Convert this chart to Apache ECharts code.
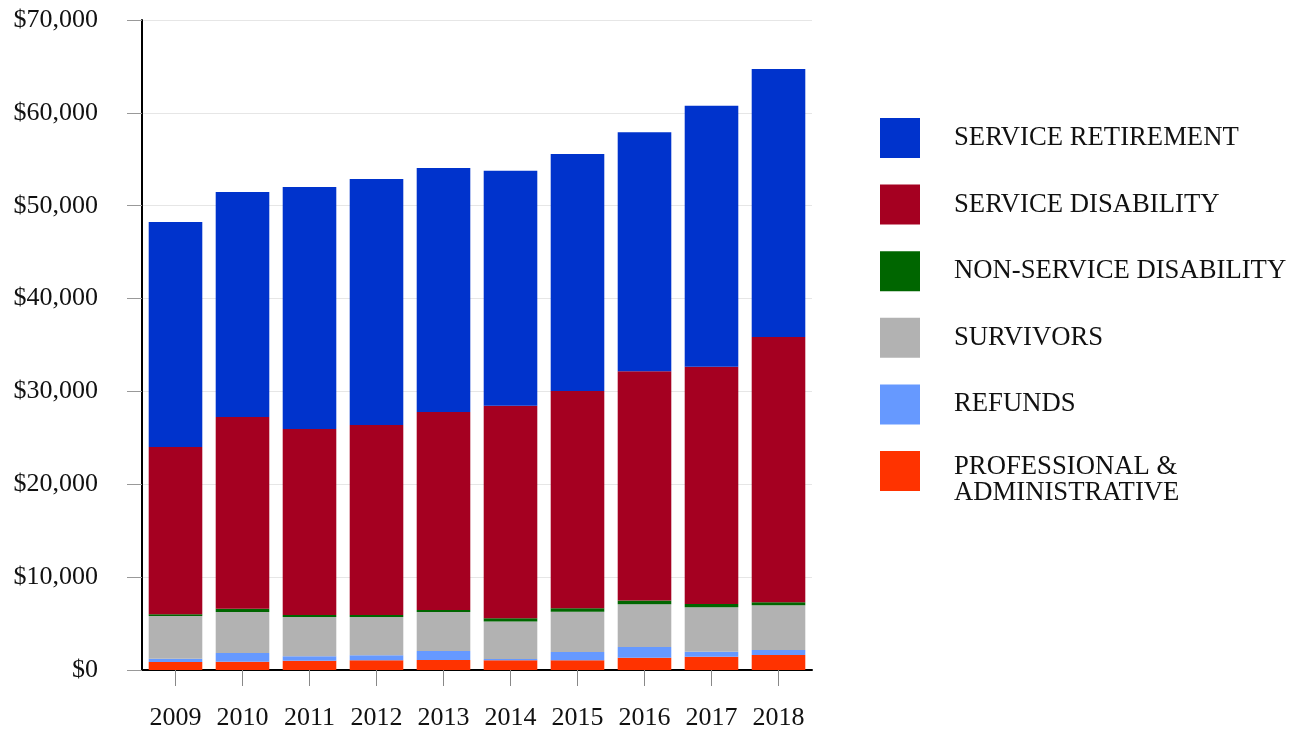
<!DOCTYPE html>
<html>
<head>
<meta charset="utf-8">
<script src="https://cdn.jsdelivr.net/npm/echarts@6/dist/echarts.min.js"></script>
<style>
html,body{margin:0;padding:0;background:#fff;}
#chart{width:1299px;height:732px;}
</style>
</head>
<body>
<div id="chart"></div>
<script>
const years = ['2009','2010','2011','2012','2013','2014','2015','2016','2017','2018'];
const profAdmin = [860, 895, 1000, 1045, 1075, 1045, 1045, 1325, 1430, 1615];
const refunds = [355, 935, 475, 540, 970, 140, 895, 1150, 540, 540];
const survivors = [4600, 4415, 4230, 4125, 4200, 4050, 4340, 4600, 4780, 4815];
const nonServiceDisability = [183, 355, 215, 215, 215, 325, 365, 400, 365, 325];
const serviceDisability = [18020, 20640, 20030, 20460, 21320, 22905, 23400, 24690, 25555, 28570];
const serviceRetirement = [24230, 24230, 26060, 26490, 26275, 25305, 25520, 25740, 28105, 28860];

const FONT = '"Liberation Serif", "Times New Roman", serif';
const LFS = 26.7;

const seriesDefs = [
  {name: 'PROFESSIONAL &\nADMINISTRATIVE', data: profAdmin, color: '#FF3300'},
  {name: 'REFUNDS', data: refunds, color: '#6699FF'},
  {name: 'SURVIVORS', data: survivors, color: '#B2B2B2'},
  {name: 'NON-SERVICE DISABILITY', data: nonServiceDisability, color: '#006600'},
  {name: 'SERVICE DISABILITY', data: serviceDisability, color: '#A50021'},
  {name: 'SERVICE RETIREMENT', data: serviceRetirement, color: '#0033CC'}
];

const chart = echarts.init(document.getElementById('chart'), null, {renderer: 'canvas'});
const reversed = seriesDefs.slice().reverse();
const legendBase = {
  orient: 'vertical',
  left: 880,
  padding: 0,
  itemWidth: 40,
  itemHeight: 40,
  itemGap: 26.6,
  icon: 'rect',
  selectedMode: false,
  textStyle: {fontFamily: FONT, fontSize: LFS, color: '#111', padding: [0, 0, 0, 29]}
};

chart.setOption({
  animation: false,
  backgroundColor: '#ffffff',
  grid: {left: 142, right: 487, top: 20, bottom: 62, containLabel: false},
  legend: [
    Object.assign({}, legendBase, {
      top: 118,
      data: reversed.slice(0, 5).map(s => s.name)
    }),
    Object.assign({}, legendBase, {
      top: 440,
      data: [reversed[5].name],
      formatter: name => '{s| }\n' + name.split('\n').map(l => '{t|' + l + '}').join('\n'),
      textStyle: {
        fontFamily: FONT, fontSize: LFS, color: '#111', padding: [0, 0, 0, 29],
        rich: {
          s: {fontSize: 10, lineHeight: 18, fontFamily: FONT},
          t: {fontSize: LFS, lineHeight: 26, fontFamily: FONT, color: '#111'}
        }
      }
    })
  ],
  xAxis: {
    type: 'category',
    data: years,
    axisLine: {show: true, lineStyle: {color: '#000', width: 2}},
    axisTick: {show: true, alignWithLabel: true, interval: 0, length: 16, lineStyle: {color: '#888', width: 1}},
    axisLabel: {fontFamily: FONT, fontSize: 26, color: '#111', margin: 35, interval: 0}
  },
  yAxis: {
    type: 'value',
    min: 0,
    max: 70000,
    interval: 10000,
    axisLine: {show: true, lineStyle: {color: '#000', width: 2}},
    axisTick: {show: true, length: 15, lineStyle: {color: '#999', width: 1}},
    splitLine: {show: true, lineStyle: {color: '#e6e6e6', width: 1}},
    axisLabel: {
      fontFamily: FONT, fontSize: 26, color: '#111', margin: 44,
      formatter: v => '$' + v.toLocaleString('en-US')
    }
  },
  series: seriesDefs.map(s => ({
    name: s.name,
    type: 'bar',
    stack: 'total',
    data: s.data,
    barCategoryGap: '20%',
    itemStyle: {color: s.color},
    emphasis: {disabled: true}
  }))
});
</script>
</body>
</html>
